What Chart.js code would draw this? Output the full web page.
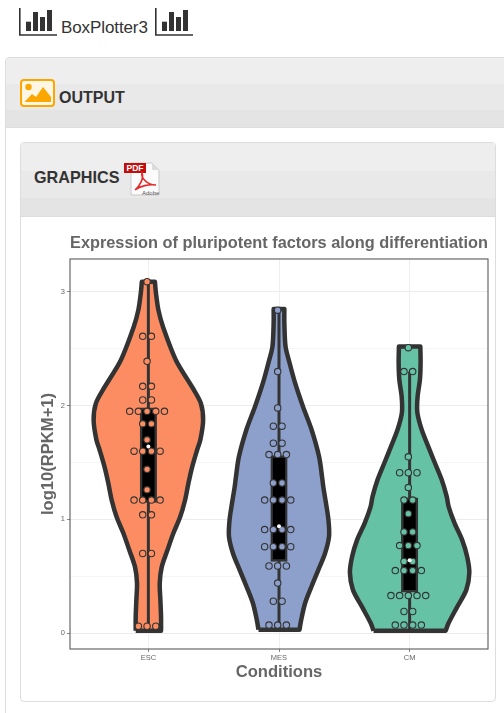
<!DOCTYPE html>
<html>
<head>
<meta charset="utf-8">
<title>BoxPlotter3</title>
<script src="https://cdn.jsdelivr.net/npm/chart.js@4"></script>
<style>
html, body { margin: 0; padding: 0; background: #fff; overflow: hidden; }
body { width: 504px; height: 713px; position: relative; font-family: "Liberation Sans", Arial, sans-serif; color: #333; }
.abs { position: absolute; }
.band { background: linear-gradient(#eeeeee 0, #eeeeee 38%, #e9e9e9 38%, #e9e9e9 76%, #e4e4e4 76%, #e4e4e4 100%); }
#outerPanel { left: 5px; top: 57px; width: 510px; height: 680px; border: 1px solid #ddd; border-radius: 4px; box-sizing: border-box; }
#outerHead { left: 6px; top: 58px; width: 498px; height: 69px; border-bottom: 1px solid #ddd; border-radius: 3px 0 0 0; }
#innerPanel { left: 20px; top: 142px; width: 476px; height: 560px; border: 1px solid #ddd; border-radius: 4px; box-sizing: border-box; }
#innerHead { left: 21px; top: 143px; width: 474px; height: 73px; border-bottom: 1px solid #ddd; border-radius: 3px 3px 0 0; }
#appName { left: 61px; top: 18px; font-size: 17px; letter-spacing: -0.1px; }
#outputLabel { left: 59px; top: 89px; font-size: 16px; font-weight: bold; }
#graphicsLabel { left: 34px; top: 168px; font-size: 16.2px; font-weight: bold; }
canvas { position: absolute; left: 30px; top: 228px; }
</style>
</head>
<body>
<svg width="0" height="0" style="position:absolute">
  <symbol id="barIcon" viewBox="0 0 38 28">
    <path d="M0.8 0V27H38" fill="none" stroke="#333" stroke-width="1.6"/>
    <rect x="7" y="13.7" width="5" height="9.3" fill="#333"/>
    <rect x="14" y="4" width="5" height="19" fill="#333"/>
    <rect x="21" y="9" width="5" height="14" fill="#333"/>
    <rect x="28" y="2" width="5" height="21" fill="#333"/>
  </symbol>
</svg>

<svg class="abs" style="left:19px;top:8px" width="38" height="28"><use href="#barIcon"/></svg>
<div class="abs" id="appName">BoxPlotter3</div>
<svg class="abs" style="left:155px;top:8px" width="38" height="28"><use href="#barIcon"/></svg>

<div class="abs" id="outerPanel"></div>
<div class="abs band" id="outerHead"></div>
<svg class="abs" style="left:20px;top:79px" width="35" height="28">
  <rect x="1" y="1" width="33" height="26" rx="3" fill="#fff6e3" stroke="#fca600" stroke-width="2"/>
  <circle cx="8.5" cy="8" r="3.2" fill="#fca600"/>
  <path d="M4.5 23 L12 15 L16 18 L23 8 L31 18 V23 Z" fill="#fca600"/>
</svg>
<div class="abs" id="outputLabel">OUTPUT</div>

<div class="abs" id="innerPanel"></div>
<div class="abs band" id="innerHead"></div>
<div class="abs" id="graphicsLabel">GRAPHICS</div>
<svg class="abs" style="left:122px;top:161px" width="38" height="36">
  <path d="M9 2H30L37 9V34H9Z" fill="#fbfbfb" stroke="#c9c9c9"/>
  <path d="M30 2V9H37Z" fill="#dddddd"/>
  <rect x="2" y="2" width="22" height="10" fill="#c40d0d"/>
  <text x="13" y="10" text-anchor="middle" font-size="8.5" font-weight="bold" fill="#fff" font-family="Liberation Sans">PDF</text>
  <path d="M13 29 C18 25 22 17 20 12 C19 16 24 24 34 24 C27 23 18 25 13 29" fill="none" stroke="#e22c2c" stroke-width="1.6"/>
  <text x="20" y="33.5" font-size="6" fill="#555" font-family="Liberation Sans">Adobe</text>
</svg>

<canvas id="violinChart" width="474" height="462"></canvas>

<script>
var categories = ["ESC", "MES", "CM"];
var chartTitle = "Expression of pluripotent factors along differentiation";
var xTitle = "Conditions";
var yTitle = "log10(RPKM+1)";
var yTickLabels = [0, 1, 2, 3];

// violin outlines, bottom to top: level, half width in category units
var escLevels = [0.02, 0.14, 0.29, 0.44, 0.58, 0.73, 0.88, 1.02, 1.17, 1.32, 1.46, 1.61, 1.70, 1.87, 2.02, 2.16, 2.40, 2.69, 2.84, 3.00, 3.09];
var escWidths = [0.097, 0.097, 0.092, 0.087, 0.102, 0.146, 0.192, 0.243, 0.281, 0.307, 0.335, 0.373, 0.398, 0.419, 0.402, 0.337, 0.211, 0.113, 0.077, 0.057, 0.050];
var mesLevels = [0.03, 0.11, 0.26, 0.41, 0.55, 0.70, 0.85, 0.99, 1.14, 1.28, 1.37, 1.55, 1.79, 1.99, 2.20, 2.38, 2.52, 2.73, 2.85];
var mesWidths = [0.157, 0.169, 0.199, 0.249, 0.299, 0.352, 0.383, 0.379, 0.360, 0.340, 0.330, 0.307, 0.249, 0.184, 0.123, 0.080, 0.050, 0.041, 0.041];
var cmLevels = [0.02, 0.09, 0.23, 0.38, 0.53, 0.67, 0.82, 0.97, 1.11, 1.20, 1.35, 1.50, 1.64, 1.79, 1.94, 2.08, 2.23, 2.38, 2.52];
var cmWidths = [0.276, 0.299, 0.364, 0.434, 0.457, 0.441, 0.402, 0.343, 0.299, 0.284, 0.245, 0.192, 0.143, 0.092, 0.059, 0.061, 0.079, 0.084, 0.082];

// box stats per category
var boxQ1 = [1.15, 0.63, 0.36];
var boxQ3 = [1.98, 1.56, 1.19];
var medians = [1.64, 0.94, 0.64];
var whiskerLow = [0.02, 0.02, 0.02];
var whiskerHigh = [3.09, 2.85, 2.30];

// dot rows: value and how many dots are stacked side by side
var escDotValues = [3.09, 2.61, 2.39, 2.17, 2.05, 1.95, 1.84, 1.70, 1.60, 1.44, 1.26, 1.17, 1.04, 0.70, 0.06];
var escDotCounts = [1, 2, 1, 2, 2, 5, 2, 1, 4, 1, 1, 4, 2, 2, 3];
var mesDotValues = [2.84, 2.30, 1.98, 1.82, 1.67, 1.57, 1.32, 1.17, 0.91, 0.76, 0.59, 0.44, 0.28, 0.07];
var mesDotCounts = [1, 1, 1, 2, 2, 3, 2, 4, 4, 4, 3, 1, 2, 3];
var cmDotValues = [2.51, 2.30, 1.55, 1.41, 1.28, 1.17, 1.05, 0.89, 0.77, 0.63, 0.55, 0.33, 0.19, 0.07];
var cmDotCounts = [1, 2, 1, 3, 1, 2, 1, 2, 3, 2, 4, 5, 2, 4];

var fillColors = ["#fc8d62", "#8da0cb", "#66c2a5"];

// the end points go in twice so the spline keeps the flat tops and bottoms square
function violinPoints(pos, levels, widths) {
  var pts = [];
  var last = levels.length - 1;
  pts.push({x: pos - widths[0], y: levels[0]});
  for (var i = 0; i <= last; i++) pts.push({x: pos - widths[i], y: levels[i]});
  pts.push({x: pos - widths[last], y: levels[last]});
  pts.push({x: pos + widths[last], y: levels[last]});
  for (var j = last; j >= 0; j--) pts.push({x: pos + widths[j], y: levels[j]});
  pts.push({x: pos + widths[0], y: levels[0]});
  pts.push({x: pos - widths[0], y: levels[0]});
  return pts;
}

function dotPoints(pos, values, counts) {
  var pts = [];
  var step = 0.0665;
  for (var i = 0; i < values.length; i++) {
    for (var k = 0; k < counts[i]; k++) {
      pts.push({x: pos - 0.01 + (k - (counts[i] - 1) / 2) * step, y: values[i]});
    }
  }
  return pts;
}

var allLevels = [escLevels, mesLevels, cmLevels];
var allWidths = [escWidths, mesWidths, cmWidths];
var allDotValues = [escDotValues, mesDotValues, cmDotValues];
var allDotCounts = [escDotCounts, mesDotCounts, cmDotCounts];

var datasets = [];
categories.forEach(function (name, i) {
  var pos = i + 1;
  datasets.push({
    type: 'line', label: name + ' violin', order: 5,
    data: violinPoints(pos, allLevels[i], allWidths[i]),
    borderColor: '#333333', borderWidth: 4.5, backgroundColor: fillColors[i],
    fill: 'shape', tension: 0.3, pointRadius: 0, borderJoinStyle: 'round'
  });
  datasets.push({
    type: 'line', label: name + ' whisker', order: 4,
    data: [{x: pos, y: whiskerLow[i]}, {x: pos, y: whiskerHigh[i]}],
    borderColor: '#333333', borderWidth: 3, pointRadius: 0, fill: false
  });
  datasets.push({
    type: 'line', label: name + ' dots', order: 2,
    data: dotPoints(pos, allDotValues[i], allDotCounts[i]),
    showLine: false, pointRadius: 3.2, pointBorderWidth: 1.1,
    pointBorderColor: '#333333', pointBackgroundColor: fillColors[i]
  });
});
datasets.push({
  type: 'bar', label: 'box', order: 3,
  data: categories.map(function (name, i) { return {x: i + 1, y: [boxQ1[i], boxQ3[i]]}; }),
  backgroundColor: '#000000', borderColor: '#333333', borderWidth: 2.5,
  borderSkipped: false, barThickness: 16.5
});
datasets.push({
  type: 'line', label: 'median', order: 1,
  data: categories.map(function (name, i) { return {x: i + 1, y: medians[i]}; }),
  showLine: false, pointRadius: 2, pointBorderWidth: 0, pointBackgroundColor: '#ffffff'
});

// theme_bw style frame round the panel
var panelBorder = {
  id: 'panelBorder',
  afterDraw: function (chart) {
    var a = chart.chartArea, ctx = chart.ctx;
    ctx.save();
    ctx.strokeStyle = '#5a5a5a';
    ctx.lineWidth = 1.1;
    ctx.strokeRect(a.left, a.top, a.right - a.left, a.bottom - a.top);
    ctx.restore();
  }
};

var violinChart = new Chart(document.getElementById('violinChart'), {
  type: 'line',
  data: {datasets: datasets},
  plugins: [panelBorder],
  options: {
    responsive: false,
    animation: false,
    layout: {padding: {right: 16}},
    plugins: {
      legend: {display: false},
      tooltip: {enabled: false},
      title: {
        display: true, text: chartTitle, align: 'start', fullSize: false,
        color: '#666666', font: {family: 'Liberation Sans', size: 16.4, weight: 'bold'},
        padding: {top: 6, bottom: 5.3}
      }
    },
    scales: {
      x: {
        type: 'linear', min: 0.4, max: 3.6, offset: false,
        afterFit: function (scale) { scale.height = 41; },
        afterBuildTicks: function (scale) {
          scale.ticks = categories.map(function (name, i) { return {value: i + 1}; });
        },
        grid: {offset: false, color: '#efefef', lineWidth: 1, tickColor: '#888888', tickLength: 3},
        border: {display: false},
        ticks: {
          autoSkip: false, maxRotation: 0, padding: 1, color: '#666666',
          font: {family: 'Liberation Sans', size: 7.5},
          callback: function (value) { return categories[value - 1]; }
        },
        title: {
          display: true, text: xTitle, color: '#666666',
          font: {family: 'Liberation Sans', size: 16.6, weight: 'bold'},
          padding: {top: 0, bottom: 8}
        }
      },
      y: {
        min: -0.14, max: 3.29,
        afterFit: function (scale) { scale.width = 40; },
        afterBuildTicks: function (scale) {
          scale.ticks = [0, 0.5, 1, 1.5, 2, 2.5, 3].map(function (v) { return {value: v}; });
        },
        grid: {
          lineWidth: 1,
          color: function (ctx) { return yTickLabels.indexOf(ctx.tick.value) >= 0 ? '#ececec' : '#f5f5f5'; },
          tickColor: function (ctx) { return yTickLabels.indexOf(ctx.tick.value) >= 0 ? '#888888' : 'rgba(0,0,0,0)'; },
          tickLength: 3
        },
        border: {display: false},
        ticks: {
          autoSkip: false, padding: 2, color: '#666666',
          font: {family: 'Liberation Sans', size: 7.5},
          callback: function (value) { return yTickLabels.indexOf(value) >= 0 ? String(value) : ''; }
        },
        title: {
          display: true, text: yTitle, color: '#666666',
          font: {family: 'Liberation Sans', size: 16.6, weight: 'bold'},
          padding: {top: 8, bottom: 0}
        }
      }
    }
  }
});
</script>
</body>
</html>
